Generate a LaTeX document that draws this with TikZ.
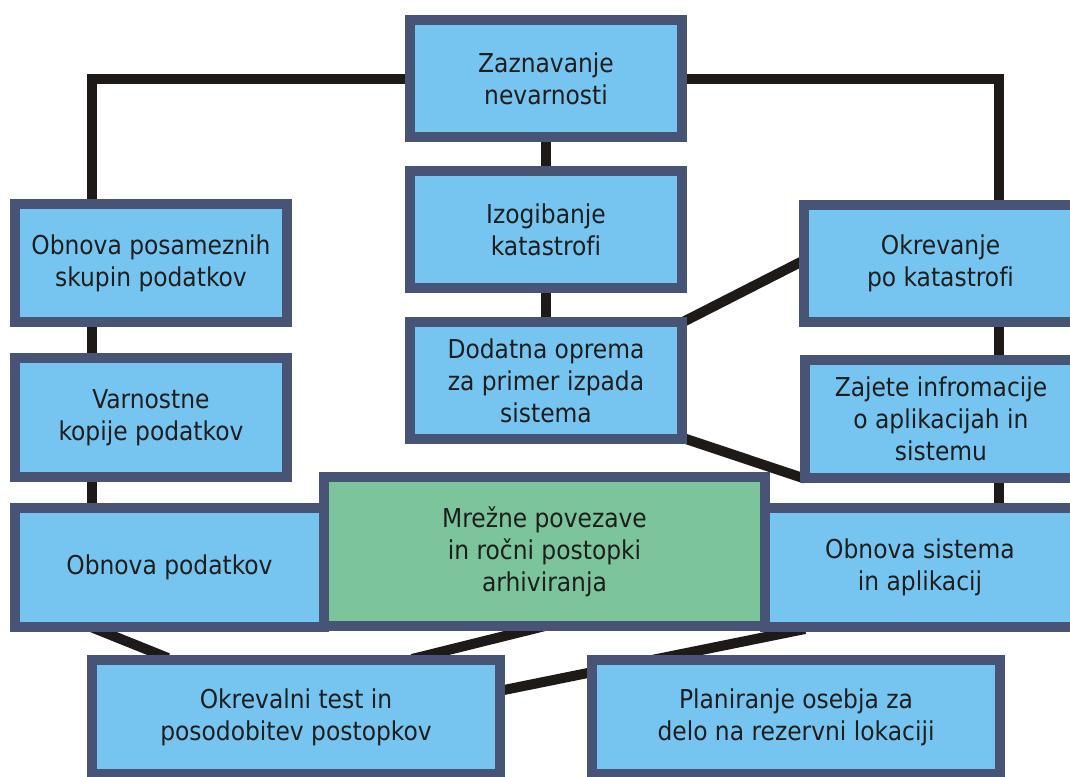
\documentclass[tikz,border=0pt]{standalone}
\usepackage{fontspec}
\setmainfont{DejaVu Sans Condensed}[Ligatures=NoCommon]
\usetikzlibrary{calc,backgrounds}

\definecolor{boxline}{RGB}{71,84,117}
\definecolor{boxblue}{RGB}{118,197,240}
\definecolor{boxgreen}{RGB}{123,196,156}
\definecolor{wire}{RGB}{30,26,24}
\definecolor{ink}{RGB}{30,30,30}

\tikzset{
  box/.style={draw=boxline, fill=boxblue, line width=10pt, inner sep=0pt,
    align=center, text=ink, font=\fontsize{26pt}{32pt}\selectfont},
  greenbox/.style={box, fill=boxgreen},
  wirel/.style={draw=wire, line width=10pt},
}

\begin{document}
\begin{tikzpicture}[x=1pt, y=-1pt]
\useasboundingbox (0,0) rectangle (1070,776);
\clip (0,0) rectangle (1070,776);

% boxes (outer size minus the 10pt frame)
\path
  node[box, minimum width=272pt, minimum height=117pt] (A) at (546,78.5) {Zaznavanje\\nevarnosti}
  node[box, minimum width=272pt, minimum height=117pt] (B) at (546,229.5) {Izogibanje\\katastrofi}
  node[box, minimum width=272pt, minimum height=117pt] (C) at (546,380.5) {Dodatna oprema\\za primer izpada\\sistema}
  node[box, minimum width=272pt, minimum height=118pt] (D) at (151,263) {Obnova posameznih\\skupin podatkov}
  node[box, minimum width=272pt, minimum height=119pt] (E) at (151,417.5) {Varnostne\\kopije podatkov}
  node[box, minimum width=309pt, minimum height=119pt] (F) at (169.5,567.5) {Obnova podatkov}
  node[box, minimum width=273pt, minimum height=117pt] (H) at (940.5,263.5) {Okrevanje\\po katastrofi}
  node[box, minimum width=272pt, minimum height=118pt] (I) at (941,419) {Zajete infromacije\\o aplikacijah in\\sistemu}
  node[box, minimum width=310pt, minimum height=119pt] (J) at (920,567.5) {Obnova sistema\\in aplikacij}
  node[box, minimum width=408pt, minimum height=114pt] (K) at (296,717) {Okrevalni test in\\posodobitev postopkov}
  node[box, minimum width=408pt, minimum height=114pt] (L) at (796,717) {Planiranje osebja za\\delo na rezervni lokaciji}
  node[greenbox, minimum width=441pt, minimum height=149pt] (G) at (544.5,551.5) {Mrežne povezave\\in ročni postopki\\arhiviranja};

% connectors, drawn beneath the boxes
\begin{pgfonlayer}{background}
  % top box to the left and right columns
  \draw[wirel] (A.west) -| ($(D.north west)+(82,0)$);
  \draw[wirel] (A.east) -| ($(H.north west)+(200,0)$);
  % centre column
  \draw[wirel] (A.south) -- (B.north);
  \draw[wirel] (B.south) -- (C.north);
  % left column
  \draw[wirel] ($(D.south west)+(82,0)$) coordinate (dl) -- (dl |- E.north);
  \draw[wirel] ($(E.south west)+(82,0)$) coordinate (el) -- (el |- F.north);
  % right column
  \draw[wirel] ($(H.south west)+(200,0)$) coordinate (hr) -- (hr |- I.north);
  \draw[wirel] ($(I.south west)+(199,0)$) coordinate (ir) -- (ir |- J.north);
  % diagonals from the centre column
  \draw[wirel] ($(C.north east)+(-7,6.5)$) -- ($(H.west)+(6,-3.7)$);
  \draw[wirel] ($(C.south east)+(-7,-7)$) -- ($(I.south west)+(5,-4.3)$);
  % diagonals into the bottom row
  \draw[wirel] ($(F.south west)+(81,-5)$) -- ($(K.north west)+(81,3)$);
  \draw[wirel] ($(G.south)+(0.5,-5)$) -- ($(K.north west)+(325,4)$);
  \draw[wirel] ($(K.east)+(-11,-25)$) -- ($(J.south west)+(45,-3)$);
\end{pgfonlayer}
\end{tikzpicture}
\end{document}
